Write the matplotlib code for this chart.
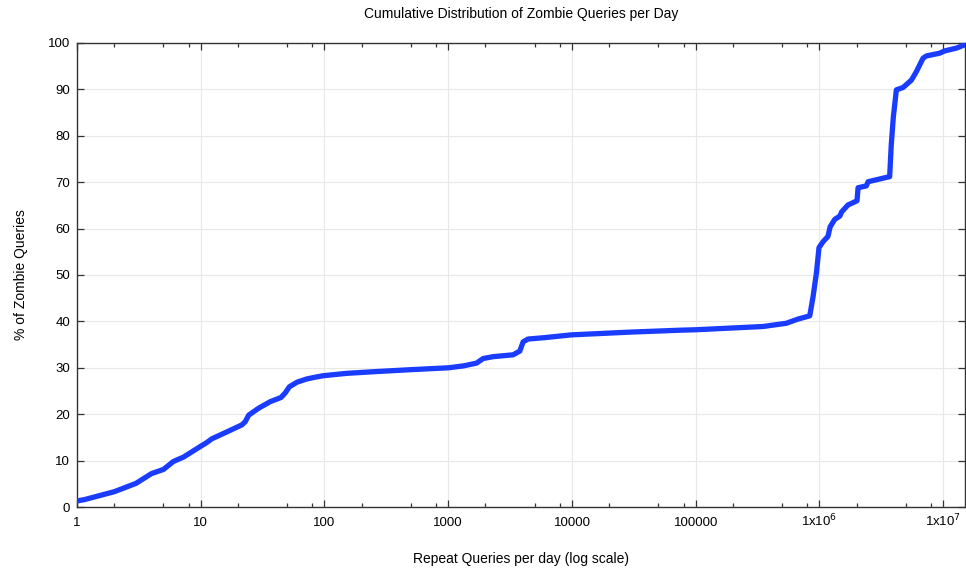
import matplotlib
matplotlib.use("Agg")
import matplotlib.pyplot as plt
from matplotlib.ticker import FixedLocator, FixedFormatter
import numpy as np

plt.rcParams['font.family'] = ['Liberation Sans', 'DejaVu Sans']

# repeat queries per day (x) and cumulative % of zombie queries (y)
queries = [1, 1.15, 2, 3, 4, 5, 6, 7.3, 10, 11.2, 12.3, 16.3, 21.5, 22.9, 24.4,
           29.4, 36.4, 44.5, 48.2, 52, 60, 72, 85, 98, 150, 265, 500, 1000, 1320,
           1690, 1915, 2305, 3345, 3785, 4030, 4420, 6000, 9900, 30000, 74300,
           1e5, 350000, 422000, 540000, 670000, 834000, 887000, 944000, 991000,
           1.07e6, 1.17e6, 1.22e6, 1.33e6, 1.46e6, 1.51e6, 1.70e6, 1.87e6,
           2.01e6, 2.05e6, 2.39e6, 2.47e6, 3.69e6, 3.80e6, 3.95e6, 4.18e6,
           4.73e6, 5.53e6, 6.06e6, 6.86e6, 7.30e6, 9.35e6, 1.03e7, 1.28e7, 1.49e7]
pct = [1.3, 1.6, 3.3, 5.1, 7.2, 8.1, 9.8, 10.8, 13.1, 13.9, 14.7, 16.2, 17.7,
       18.4, 19.8, 21.3, 22.7, 23.6, 24.6, 25.9, 26.9, 27.6, 28.0, 28.3, 28.8,
       29.2, 29.6, 30.0, 30.4, 31.0, 32.0, 32.4, 32.8, 33.6, 35.6, 36.2, 36.5,
       37.1, 37.7, 38.1, 38.2, 38.9, 39.2, 39.6, 40.5, 41.2, 45.3, 50.4, 55.9,
       57.2, 58.3, 60.4, 62.0, 62.7, 63.6, 65.1, 65.6, 66.0, 68.8, 69.2, 70.1,
       71.2, 78.0, 84.0, 89.9, 90.4, 92.0, 93.8, 96.7, 97.2, 97.8, 98.3, 98.9,
       99.6]

xticks = [1, 10, 100, 1000, 10000, 100000, 1e6, 1e7]
xlabels = ['1', '10', '100', '1000', '10000', '100000', '1x10$^6$', '1x10$^7$']
yticks = list(range(0, 101, 10))

fig = plt.figure(figsize=(9.66, 5.70), dpi=100)
ax = fig.add_axes([0.0797, 0.1105, 0.9193, 0.8141])

ax.plot(queries, pct, color='#1a3cff', linewidth=3.8, solid_capstyle='round',
        solid_joinstyle='round', zorder=3)

ax.set_xscale('log')
ax.set_xlim(1, 1.5e7)
ax.set_ylim(0, 100)

ax.xaxis.set_major_locator(FixedLocator(xticks))
ax.xaxis.set_major_formatter(FixedFormatter(xlabels))
minors = [m * 10 ** d for d in range(0, 8) for m in (2, 5, 8)]
ax.xaxis.set_minor_locator(FixedLocator(minors))
ax.xaxis.set_minor_formatter(FixedFormatter([''] * len(minors)))
ax.set_yticks(yticks)

ax.tick_params(which='major', direction='in', length=5, width=0.9, color='#333333',
               top=True, right=True, labelsize=9.5)
ax.tick_params(which='minor', direction='in', length=3, width=0.9, color='#333333',
               top=True, right=True)
ax.tick_params(axis='y', pad=5)
ax.tick_params(axis='x', pad=14)
for lbl in ax.get_xticklabels():
    lbl.set_verticalalignment('baseline')

ax.grid(True, which='major', color='#e8e8e8', linewidth=0.8)
ax.set_axisbelow(True)
for s in ax.spines.values():
    s.set_color('#333333')
    s.set_linewidth(1.0)

ax.set_title('Cumulative Distribution of Zombie Queries per Day', fontsize=10, pad=18)
ax.set_xlabel('Repeat Queries per day (log scale)', fontsize=10, labelpad=16)
ax.set_ylabel('% of Zombie Queries', fontsize=10, labelpad=14)

fig.savefig('out.png', dpi=100)
